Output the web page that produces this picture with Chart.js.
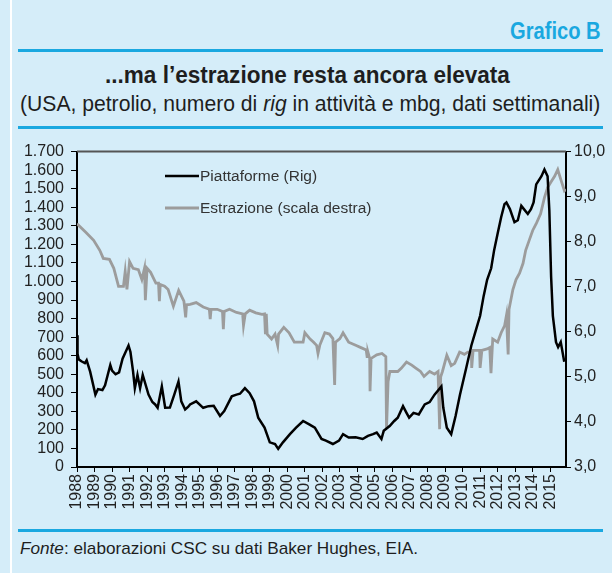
<!DOCTYPE html>
<html>
<head>
<meta charset="utf-8">
<script src="https://cdn.jsdelivr.net/npm/chart.js@4"></script>
<style>
  body { margin: 0; width: 612px; height: 573px; background: #d5edf9; position: relative; overflow: hidden;
         font-family: 'Liberation Sans', Arial, sans-serif; color: #1e1e1e; }
  .bordo { position: absolute; left: 10px; top: 0; width: 2px; height: 573px; background: #fff; }
  .riga { position: absolute; left: 18px; width: 585px; height: 3px; background: #1aa8e0; }
  .testo { position: absolute; white-space: nowrap; line-height: 1; transform-origin: 0 50%; }
  #grafico-b { left: 510px; top: 20px; font-size: 23px; font-weight: bold; color: #1aa8e0; }
  #titolo { left: 105px; top: 64px; font-size: 23.5px; font-weight: bold; }
  #sottotitolo { left: 20px; top: 94px; font-size: 21.5px; }
  #fonte { left: 20px; top: 540px; font-size: 17px; }
  #wrap { position: absolute; left: 0; top: 135px; }
</style>
</head>
<body>
<div class="bordo"></div>
<div class="testo" id="grafico-b" data-w="91">Grafico B</div>
<div class="riga" style="top:49px"></div>
<div class="testo" id="titolo" data-w="405">...ma l’estrazione resta ancora elevata</div>
<div class="testo" id="sottotitolo" data-w="580">(USA, petrolio, numero di <i>rig</i> in attività e mbg, dati settimanali)</div>
<div class="riga" style="top:126px"></div>
<div id="wrap"><canvas id="grafico" width="612" height="390"></canvas></div>
<div class="riga" style="top:529px"></div>
<div class="testo" id="fonte" data-w="398"><i>Fonte</i>: elaborazioni CSC su dati Baker Hughes, EIA.</div>

<script>
// piattaforme (rig) attive
const rigAnni = [1988.0, 1988.03, 1988.1, 1988.25, 1988.45, 1988.55, 1988.75, 1989.05, 1989.2, 1989.45, 1989.6, 1989.9,
    1990.0, 1990.2, 1990.4, 1990.6, 1990.94, 1991.05, 1991.2, 1991.3, 1991.45, 1991.6, 1991.75, 1992.08, 1992.3,
    1992.46, 1992.6, 1992.84, 1993.03, 1993.3, 1993.55, 1993.79, 1993.95, 1994.17, 1994.35, 1994.45, 1994.8,
    1995.2, 1995.5, 1995.8, 1996.16, 1996.4, 1996.83, 1997.1, 1997.3, 1997.58, 1997.85, 1998.1, 1998.34, 1998.7,
    1999.0, 1999.3, 1999.48, 1999.75, 2000.15, 2000.5, 2000.9, 2001.25, 2001.57, 2001.95, 2002.2, 2002.6, 2002.95,
    2003.18, 2003.5, 2003.9, 2004.3, 2004.6, 2004.89, 2005.1, 2005.37, 2005.5, 2005.84, 2006.1, 2006.3, 2006.6,
    2006.8, 2006.95, 2007.2, 2007.5, 2007.84, 2008.12, 2008.4, 2008.79, 2008.9, 2009.1, 2009.35, 2009.6, 2009.85,
    2010.2, 2010.5, 2010.78, 2011.0, 2011.2, 2011.4, 2011.63, 2011.8, 2012.0, 2012.2, 2012.39, 2012.5, 2012.7,
    2012.96, 2013.15, 2013.35, 2013.5, 2013.72, 2013.9, 2014.05, 2014.2, 2014.5, 2014.67, 2014.85, 2014.95,
    2015.05, 2015.15, 2015.33, 2015.45, 2015.6, 2015.8];
const rigValori = [710, 610, 580, 570, 560, 575, 514, 390, 420, 415, 440, 550,
    520, 500, 510, 584, 655, 620, 514, 425, 496, 425, 496, 390, 350,
    337, 319, 434, 319, 320, 390, 461, 354, 310, 325, 337, 354,
    319, 328, 330, 275, 301, 381, 390, 395, 425, 398, 354, 266, 212,
    133, 124, 98, 133, 177, 212, 248, 230, 212, 151, 142, 124, 142,
    177, 159, 160, 151, 168, 177, 186, 151, 195, 221, 248, 266, 328,
    292, 266, 292, 283, 337, 350, 390, 434, 319, 212, 177, 275, 390,
    531, 655, 744, 815, 921, 1009, 1071, 1169, 1258, 1346, 1417, 1426, 1390,
    1320, 1330, 1408, 1390, 1364, 1390, 1426, 1523, 1567, 1603, 1567, 1381,
    1027, 815, 673, 646, 673, 567];

// estrazione di petrolio, milioni di barili al giorno (scala destra)
const estrAnni = [1988.0, 1988.5, 1988.95, 1989.3, 1989.5, 1989.85, 1990.1, 1990.37, 1990.65, 1990.75, 1990.85,
    1991.0, 1991.2, 1991.5, 1991.7, 1991.85, 1991.9, 1992.0, 1992.2, 1992.5, 1992.65, 1992.7, 1992.75, 1993.0,
    1993.2, 1993.5, 1993.8, 1994.1, 1994.2, 1994.25, 1994.45, 1994.8, 1995.2, 1995.55, 1995.6, 1995.65, 1996.0,
    1996.3, 1996.35, 1996.4, 1996.7, 1997.1, 1997.45, 1997.5, 1997.6, 1997.85, 1998.2, 1998.55, 1998.7, 1998.75,
    1998.8, 1998.85, 1999.1, 1999.3, 1999.45, 1999.5, 1999.8, 2000.1, 2000.4, 2000.9, 2001.0, 2001.3, 2001.5,
    2001.67, 2001.75, 2001.85, 2002.14, 2002.4, 2002.6, 2002.7, 2002.75, 2003.0, 2003.18, 2003.5, 2003.9, 2004.2,
    2004.5, 2004.55, 2004.6, 2004.7, 2004.72, 2004.78, 2005.1, 2005.4, 2005.62, 2005.66, 2005.75, 2005.85, 2006.1,
    2006.3, 2006.5, 2006.8, 2007.1, 2007.35, 2007.6, 2007.8, 2008.0, 2008.12, 2008.4, 2008.6, 2008.69, 2008.75,
    2008.85, 2009.1, 2009.35, 2009.55, 2009.83, 2010.1, 2010.3, 2010.5, 2010.52, 2010.6, 2010.97, 2011.0, 2011.1,
    2011.4, 2011.55, 2011.62, 2011.72, 2012.0, 2012.2, 2012.4, 2012.5, 2012.6, 2012.65, 2012.87, 2013.05, 2013.25,
    2013.45, 2013.6, 2013.8, 2014.0, 2014.2, 2014.45, 2014.67, 2014.85, 2015.05, 2015.25, 2015.43, 2015.62,
    2015.81, 2015.9];
const estrValori = [8.40, 8.21, 8.03, 7.81, 7.63, 7.61, 7.41, 7.01, 7.01, 7.34, 6.94,
    7.56, 7.41, 7.38, 7.16, 7.41, 6.70, 7.41, 7.32, 7.08, 7.08, 6.68, 7.05, 7.01,
    6.94, 6.57, 6.92, 6.68, 6.32, 6.60, 6.61, 6.65, 6.55, 6.50, 6.28, 6.50, 6.50,
    6.45, 6.06, 6.45, 6.50, 6.43, 6.40, 6.14, 6.40, 6.48, 6.42, 6.39, 6.40, 5.95,
    6.40, 5.95, 5.84, 5.95, 5.70, 5.95, 6.10, 5.98, 5.77, 5.77, 5.98, 5.84, 5.77,
    5.70, 5.52, 5.70, 5.98, 5.95, 5.85, 4.82, 5.77, 5.85, 5.98, 5.77, 5.70, 5.65,
    5.60, 5.45, 5.55, 5.41, 4.68, 5.41, 5.49, 5.52, 5.45, 3.85, 4.90, 5.12, 5.12,
    5.12, 5.19, 5.33, 5.26, 5.19, 5.12, 5.01, 5.08, 5.12, 5.06, 5.12, 3.84, 5.00,
    5.12, 5.48, 5.25, 5.30, 5.55, 5.50, 5.55, 5.55, 5.20, 5.59, 5.59, 5.20, 5.59,
    5.62, 5.65, 5.08, 5.84, 5.77, 5.98, 6.14, 6.36, 5.50, 6.50, 6.94, 7.16, 7.30,
    7.52, 7.81, 8.03, 8.25, 8.40, 8.62, 8.98, 9.20, 9.33, 9.45, 9.60, 9.36,
    9.13, 9.16];

const anniAsse = [];
for (let a = 1988; a <= 2015; a++) anniAsse.push(a);

const fontTick = { family: "'Liberation Sans', Arial, sans-serif", size: 16 };
const grigioScuro = '#222222';

function punti(xs, ys) {
    return xs.map((x, i) => ({ x: x, y: ys[i] }));
}

// i titoli sono in un carattere stretto: comprimo il testo alla larghezza voluta
function stringiTesti() {
    document.querySelectorAll('.testo').forEach(el => {
        const w = parseFloat(el.dataset.w);
        el.style.transform = 'scaleX(' + (w / el.offsetWidth) + ')';
    });
}

// legenda disegnata dentro l'area del grafico, e bordo superiore
const legendaInterna = {
    id: 'legendaInterna',
    afterDraw(chart) {
        const ctx = chart.ctx;
        const area = chart.chartArea;
        ctx.save();
        ctx.strokeStyle = '#555555';
        ctx.lineWidth = 2;
        ctx.beginPath();
        ctx.moveTo(area.left, area.top);
        ctx.lineTo(area.right, area.top);
        ctx.stroke();

        ctx.font = "15.5px 'Liberation Sans', Arial, sans-serif";
        ctx.textBaseline = 'middle';
        chart.data.datasets.forEach((ds, i) => {
            const y = 41 + i * 32;
            ctx.strokeStyle = ds.borderColor;
            ctx.lineWidth = ds.borderWidth;
            ctx.beginPath();
            ctx.moveTo(165, y);
            ctx.lineTo(199, y);
            ctx.stroke();
            ctx.fillStyle = '#333333';
            ctx.fillText(ds.label, 200, y + 1);
        });
        ctx.restore();
    }
};

window.onload = function () {
    stringiTesti();
    const ctx = document.getElementById('grafico').getContext('2d');

    new Chart(ctx, {
        type: 'line',
        data: {
            datasets: [
                {
                    label: 'Piattaforme (Rig)',
                    data: punti(rigAnni, rigValori),
                    borderColor: '#000000',
                    borderWidth: 2.5,
                    yAxisID: 'y',
                    order: 1
                },
                {
                    label: 'Estrazione (scala destra)',
                    data: punti(estrAnni, estrValori),
                    borderColor: '#9c9c9c',
                    borderWidth: 2.8,
                    yAxisID: 'y2',
                    order: 2
                }
            ]
        },
        options: {
            responsive: false,
            animation: false,
            layout: { padding: { top: 12, left: 0, right: 0, bottom: 0 } },
            elements: { point: { radius: 0 }, line: { tension: 0 } },
            plugins: {
                legend: { display: false },
                tooltip: { enabled: false }
            },
            scales: {
                x: {
                    type: 'linear',
                    min: 1988,
                    max: 2015.9,
                    afterBuildTicks: scale => { scale.ticks = anniAsse.map(v => ({ value: v })); },
                    afterFit: scale => { scale.height = 58; },
                    border: { color: '#000', width: 2 },
                    grid: { drawOnChartArea: false, color: '#000', tickLength: 5 },
                    ticks: {
                        autoSkip: false,
                        minRotation: 90, maxRotation: 90, padding: 2,
                        color: grigioScuro, font: fontTick,
                        callback: v => String(v)
                    }
                },
                y: {
                    position: 'left',
                    min: 0,
                    max: 1700,
                    afterFit: scale => { scale.width = 77; },
                    border: { color: '#000', width: 2 },
                    grid: { drawOnChartArea: false, color: '#000', tickLength: 6 },
                    ticks: {
                        autoSkip: false,
                        stepSize: 100, padding: 7,
                        color: grigioScuro, font: fontTick,
                        callback: v => v.toLocaleString('it-IT').replace(/\s/g, '.')
                    }
                },
                y2: {
                    position: 'right',
                    min: 3,
                    max: 10,
                    afterFit: scale => { scale.width = 46; },
                    border: { color: '#000', width: 2 },
                    grid: { drawOnChartArea: false, color: '#000', tickLength: 5 },
                    ticks: {
                        autoSkip: false,
                        stepSize: 1, padding: 3,
                        color: grigioScuro, font: fontTick,
                        callback: v => v.toFixed(1).replace('.', ',')
                    }
                }
            }
        },
        plugins: [legendaInterna]
    });
};
</script>
</body>
</html>
